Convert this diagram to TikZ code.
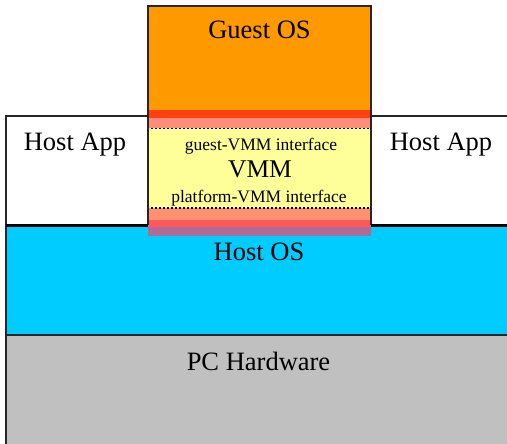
\documentclass[tikz,border=0pt]{standalone}
\usepackage{fontspec}
\setmainfont{Liberation Serif}
\definecolor{guestor}{HTML}{FF9900}
\definecolor{hostcy}{HTML}{00CCFF}
\definecolor{hwgray}{HTML}{C0C0C0}
\definecolor{vmmyel}{HTML}{FFFF99}
\definecolor{bandred}{HTML}{FF4010}
\definecolor{bandpink}{HTML}{FF8C7C}
\definecolor{bandsalm}{HTML}{FF9070}
\definecolor{bandrose}{HTML}{FF5858}
\definecolor{bandpurp}{HTML}{B06A98}
\begin{document}
\begin{tikzpicture}[x=1pt,y=-1pt,
  edge/.style={line width=2pt,draw=black!85},
  bigtxt/.style={font=\fontsize{26.5}{28}\selectfont,anchor=base,inner sep=0pt},
  smalltxt/.style={font=\fontsize{17.5}{19}\selectfont,anchor=base,inner sep=0pt},
  vmmtxt/.style={font=\fontsize{25.5}{27}\selectfont,anchor=base,inner sep=0pt}]
\useasboundingbox[fill=white] (0,0) rectangle (507,444);
% PC hardware
\fill[hwgray] (6,335) rectangle (507,444);
% Host OS
\fill[hostcy] (6,225) rectangle (507,335);
% Host apps
\fill[white] (6,116) rectangle (148,225);
\fill[white] (371,116) rectangle (507,225);
% Guest OS
\fill[guestor] (148,6) rectangle (371,110);
% VMM bands
\fill[bandred] (148,110) rectangle (371,118);
\fill[bandpink] (148,118) rectangle (371,128);
\fill[vmmyel] (148,128) rectangle (371,208);
\fill[bandsalm] (148,208) rectangle (371,220);
\fill[bandrose] (148,220) rectangle (371,227);
\fill[bandpurp] (148,227) rectangle (371,236);
\draw[black,line width=1.3pt,dash pattern=on 1.5pt off 2.5pt] (151,128.5) -- (369,128.5);
\draw[black,line width=1.3pt,dash pattern=on 1.5pt off 2.5pt] (151,208) -- (369,208);
% outlines
\draw[edge] (6,444) -- (6,116) -- (148,116);
\draw[edge] (371,116) -- (507,116);
\draw[edge] (148,225) -- (148,6) -- (371,6) -- (371,225);
\draw[line width=3pt,black] (6,225) -- (148,225);
\draw[line width=3pt,black] (371,225) -- (507,225);
\draw[edge] (6,335) -- (507,335);
% texts
\node[bigtxt] (guest) at (259.5,39) {Guest OS};
\node[bigtxt] (appl) at (75,151) {Host App};
\node[bigtxt] (appr) at (441,151) {Host App};
\node[smalltxt] (gvi) at (261,150) {guest-VMM interface};
\node[vmmtxt] (vmm) at (260,178) {VMM};
\node[smalltxt] (pvi) at (259,203) {platform-VMM interface};
\node[bigtxt] (hos) at (259,260) {Host OS};
\node[bigtxt] (hw) at (258.5,370) {PC Hardware};
\end{tikzpicture}
\end{document}
